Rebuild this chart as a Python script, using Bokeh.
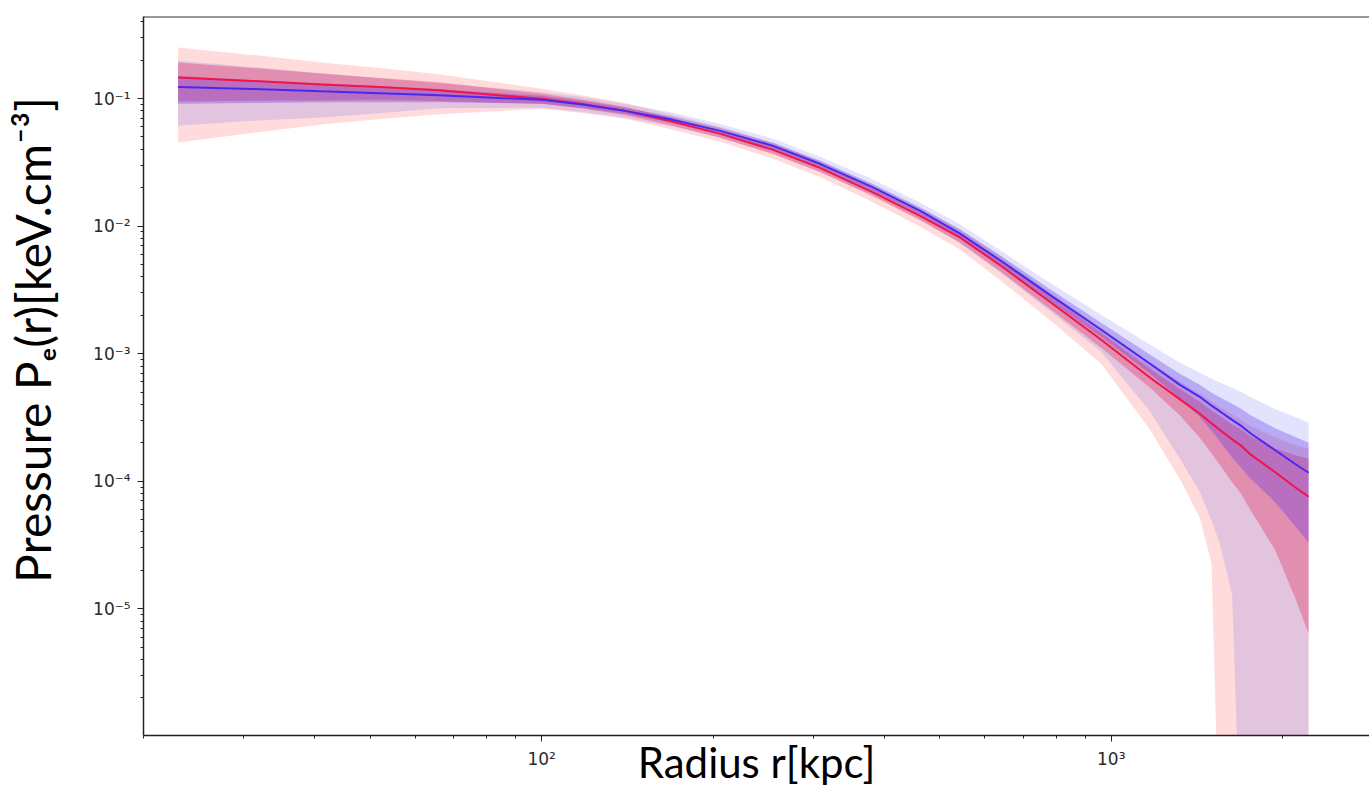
import numpy as np
from bokeh.plotting import figure
from bokeh.models import Range1d, FixedTicker, CustomJSTickFormatter, Span
from bokeh.embed import file_html
from bokeh.resources import INLINE

# ---------------- data ----------------
radius = [23, 31, 41, 52, 66, 100, 117, 140, 170, 206, 255, 308, 380, 462, 540, 640, 780,
          960, 1170, 1320, 1430, 1500, 1550, 1630, 1690, 1750, 1940, 2100, 2220]

red_median = [0.146, 0.1376, 0.129, 0.1235, 0.1164, 0.0995, 0.0909, 0.0801, 0.0657, 0.0529,
              0.0396, 0.0286, 0.01857, 0.01204, 8.25e-3, 4.89e-3, 2.55e-3, 1.285e-3,
              6.47e-4, 4.38e-4, 3.38e-4, 2.84e-4, 2.53e-4, 2.13e-4, 1.90e-4, 1.64e-4,
              1.176e-4, 9.01e-5, 7.56e-5]
red_1s_hi = [0.1914, 0.1739, 0.1573, 0.1452, 0.1344, 0.1089, 0.0986, 0.0861, 0.0700, 0.0563,
             0.0422, 0.0305, 0.01978, 0.01282, 8.87e-3, 5.35e-3, 2.84e-3, 1.458e-3,
             7.61e-4, 5.25e-4, 4.20e-4, 3.59e-4, 3.26e-4, 2.79e-4, 2.54e-4, 2.27e-4,
             1.81e-4, 1.60e-4, 1.50e-4]
red_1s_lo = [0.0947, 0.0960, 0.0966, 0.0977, 0.0955, 0.0910, 0.0838, 0.0745, 0.0611, 0.0492,
             0.0368, 0.0266, 0.01727, 0.01110, 7.54e-3, 4.39e-3, 2.25e-3, 1.113e-3,
             5.40e-4, 3.28e-4, 2.19e-4, 1.653e-4, 1.346e-4, 9.80e-5, 7.99e-5, 6.08e-5,
             2.88e-5, 1.238e-5, 6.38e-6]
red_2s_hi = [0.251, 0.220, 0.192, 0.174, 0.1554, 0.1192, 0.1069, 0.0925, 0.0746, 0.0600,
             0.0449, 0.0325, 0.02108, 0.01367, 9.53e-3, 5.75e-3, 3.05e-3, 1.596e-3,
             8.48e-4, 6.06e-4, 4.85e-4, 4.22e-4, 3.83e-4, 3.34e-4, 3.04e-4, 2.72e-4,
             2.21e-4, 1.92e-4, 1.80e-4]
red_2s_lo = [0.0452, 0.0538, 0.0627, 0.0693, 0.0755, 0.0831, 0.0773, 0.0694, 0.0569, 0.0458,
             0.0337, 0.0243, 0.01550, 9.88e-3, 6.64e-3, 3.73e-3, 1.84e-3, 8.33e-4,
             2.53e-4, 1.034e-4, 5.18e-5, 2.27e-5, 1e-7, 1e-7, 1e-7, 1e-7,
             1e-7, 1e-7, 1e-7]

blue_median = [0.1235, 0.1191, 0.1139, 0.1102, 0.1063, 0.0977, 0.0901, 0.0801, 0.0681, 0.0558,
               0.0426, 0.0308, 0.0203, 0.01318, 8.86e-3, 5.35e-3, 2.89e-3, 1.539e-3,
               8.33e-4, 5.70e-4, 4.59e-4, 3.91e-4, 3.54e-4, 3.03e-4, 2.72e-4, 2.40e-4,
               1.750e-4, 1.371e-4, 1.166e-4]
blue_1s_hi = [0.1505, 0.1401, 0.1316, 0.1251, 0.1184, 0.1050, 0.0960, 0.0846, 0.0719, 0.0589,
              0.0450, 0.0325, 0.02162, 0.01404, 9.52e-3, 5.85e-3, 3.22e-3, 1.747e-3,
              9.80e-4, 6.95e-4, 5.70e-4, 4.94e-4, 4.56e-4, 4.05e-4, 3.70e-4, 3.32e-4,
              2.60e-4, 2.23e-4, 2.00e-4]
blue_1s_lo = [0.0909, 0.0925, 0.0934, 0.0937, 0.0937, 0.0909, 0.0846, 0.0759, 0.0645, 0.0528,
              0.0403, 0.0292, 0.01906, 0.01238, 8.24e-3, 4.89e-3, 2.59e-3, 1.356e-3,
              6.95e-4, 4.43e-4, 3.20e-4, 2.49e-4, 2.06e-4, 1.526e-4, 1.275e-4, 1.066e-4,
              6.85e-5, 4.48e-5, 3.30e-5]
blue_2s_hi = [0.1975, 0.1771, 0.1576, 0.1445, 0.1320, 0.1128, 0.1032, 0.0909, 0.0773, 0.0633,
              0.0484, 0.0350, 0.02345, 0.01522, 1.042e-2, 6.41e-3, 3.59e-3, 2.018e-3,
              1.174e-3, 8.48e-4, 7.08e-4, 6.37e-4, 5.98e-4, 5.40e-4, 5.02e-4, 4.60e-4,
              3.67e-4, 3.20e-4, 2.87e-4]
blue_2s_lo = [0.0611, 0.0669, 0.0712, 0.0768, 0.0841, 0.0846, 0.0787, 0.0706, 0.0600, 0.0492,
              0.0369, 0.0267, 0.01758, 0.01121, 7.40e-3, 4.31e-3, 2.16e-3, 1.035e-3,
              3.50e-4, 1.499e-4, 8.27e-5, 4.91e-5, 3.27e-5, 1.288e-5, 1e-7, 1e-7,
              1e-7, 1e-7, 1e-7]

x_ticks = [100, 1000]
x_tick_labels = ["10\u00b2", "10\u00b3"]
y_ticks = [1e-5, 1e-4, 1e-3, 1e-2, 1e-1]
y_tick_labels = ["10\u207b\u2075", "10\u207b\u2074", "10\u207b\u00b3", "10\u207b\u00b2", "10\u207b\u00b9"]

x_minor = [m * 10.0 ** e for e in (1, 2, 3) for m in range(2, 10)]
y_minor = [m * 10.0 ** e for e in range(-6, 0) for m in range(2, 10)]

x_title = "Radius r[kpc]"
y_title = "\u2003\u2003Pressure P\u2091(r)[keV.cm\u207b\u00b3]"

# ---------------- figure ----------------
p = figure(width=1369, height=806, x_axis_type="log", y_axis_type="log",
           x_range=Range1d(20, 2840), y_range=Range1d(1.015e-6, 0.44),
           output_backend="svg", toolbar_location=None,
           min_border_left=143, min_border_right=0, min_border_top=16, min_border_bottom=71)
p.background_fill_color = "white"
p.border_fill_color = "white"
p.outline_line_color = None
p.xgrid.visible = False
p.ygrid.visible = False

# bands
p.varea(x=radius, y1=red_2s_lo, y2=red_2s_hi, fill_color="#ff2a2a", fill_alpha=0.17)
p.varea(x=radius, y1=blue_2s_lo, y2=blue_2s_hi, fill_color="#4040f0", fill_alpha=0.15)
p.varea(x=radius, y1=red_1s_lo, y2=red_1s_hi, fill_color="#e0104a", fill_alpha=0.30)
p.varea(x=radius, y1=blue_1s_lo, y2=blue_1s_hi, fill_color="#5a28e6", fill_alpha=0.30)
p.line(x=radius, y=red_median, line_color="#f0144b", line_width=2)
p.line(x=radius, y=blue_median, line_color="#4b28f0", line_width=2)

# top border
p.add_layout(Span(location=0.44, dimension="width", line_color="#333333", line_width=2))

fmt_code = """
let best = 0, bd = 1e9;
for (let i = 0; i < vals.length; i++) {
  const d = Math.abs(Math.log10(tick) - Math.log10(vals[i]));
  if (d < bd) { bd = d; best = i; }
}
return labels[best];
"""
p.xaxis.ticker = FixedTicker(ticks=x_ticks, minor_ticks=x_minor)
p.yaxis.ticker = FixedTicker(ticks=y_ticks, minor_ticks=y_minor)
p.xaxis.formatter = CustomJSTickFormatter(args=dict(vals=x_ticks, labels=x_tick_labels), code=fmt_code)
p.yaxis.formatter = CustomJSTickFormatter(args=dict(vals=y_ticks, labels=y_tick_labels), code=fmt_code)

for ax in (p.xaxis, p.yaxis):
    ax.axis_line_color = "#222222"
    ax.axis_line_width = 1.5
    ax.major_tick_line_color = "#222222"
    ax.minor_tick_line_color = "#222222"
    ax.major_tick_in = 0
    ax.major_tick_out = 6
    ax.minor_tick_in = 0
    ax.minor_tick_out = 3
    ax.major_label_text_font = "DejaVu Sans"
    ax.major_label_text_font_size = "17px"
    ax.major_label_text_color = "#2a2a2a"
    ax.axis_label_text_font = "Lato"
    ax.axis_label_text_font_style = "normal"
    ax.axis_label_text_color = "black"
p.xaxis.major_label_standoff = 7
p.yaxis.major_label_standoff = 7

p.xaxis.axis_label = x_title
p.xaxis.axis_label_text_font_size = "42px"
p.xaxis.axis_label_standoff = -35
p.yaxis.axis_label = y_title
p.yaxis.axis_label_text_font_size = "48px"
p.yaxis.axis_label_standoff = 29

open("out.html", "w").write(file_html(p, INLINE))
